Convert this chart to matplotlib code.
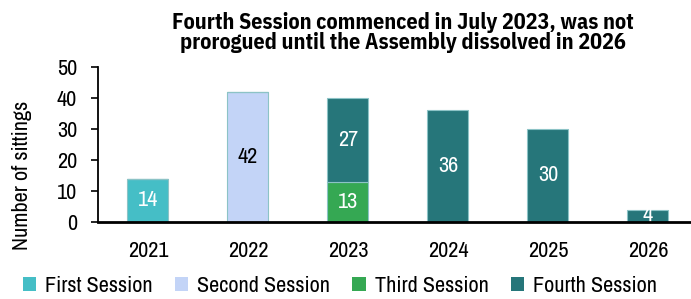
import matplotlib
matplotlib.use("Agg")
import matplotlib.pyplot as plt
import numpy as np
from matplotlib.patches import Patch

plt.rcParams['font.family'] = ['Archivo Narrow', 'Liberation Sans', 'DejaVu Sans']

years = ["2021", "2022", "2023", "2024", "2025", "2026"]
first = [14, 0, 0, 0, 0, 0]
second = [0, 42, 0, 0, 0, 0]
third = [0, 0, 13, 0, 0, 0]
fourth = [0, 0, 27, 36, 30, 4]
series_names = ["First Session", "Second Session", "Third Session", "Fourth Session"]
colors = ["#45BEC6", "#C3D4F7", "#35A853", "#26767A"]
title = "Fourth Session commenced in July 2023, was not\nprorogued until the Assembly dissolved in 2026"

FS = 16

fig = plt.figure(figsize=(6.91, 2.99), dpi=100)
ax = fig.add_axes([0.1418, 0.2575, 0.8582, 0.5185])

x = np.arange(len(years))
w = 0.41
bottom = np.zeros(len(years))
for vals, c in zip([first, second, third, fourth], colors):
    vals = np.array(vals, dtype=float)
    ax.bar(x, vals, w, bottom=bottom, color=c, edgecolor="#8CC3C6", linewidth=0.8)
    for xi, v, b in zip(x, vals, bottom):
        if v > 0:
            tc = "black" if c == "#C3D4F7" else "white"
            ax.text(xi, b + v / 2, f"{int(v)}", ha="center", va="center",
                    color=tc, fontsize=FS, zorder=1.5)
    bottom += vals

ax.set_xlim(-0.5, 5.43)
ax.set_ylim(0, 50)
ax.set_yticks([0, 10, 20, 30, 40, 50])
ax.set_xticks(x)
ax.set_xticklabels(years)
ax.tick_params(axis="x", length=0, labelsize=FS, pad=14)
ax.tick_params(axis="y", length=5, width=1.2, labelsize=FS, pad=10, direction="out")
for s in ["top", "right"]:
    ax.spines[s].set_visible(False)
ax.spines["bottom"].set_linewidth(2)
ax.spines["bottom"].set_zorder(3)
ax.spines["left"].set_linewidth(1.3)
ax.set_ylabel("Number of sittings", fontsize=FS)
ax.yaxis.set_label_coords(-0.111, 0.303)

fig.text(0.583, 0.89, title, ha="center", va="center", fontsize=15.8, fontweight="bold",
         family=["IBM Plex Sans Condensed", "DejaVu Sans"], linespacing=0.95)

handles = [Patch(facecolor=c, edgecolor="none") for c in colors]
fig.legend(handles, series_names, loc="center", bbox_to_anchor=(0.492, 0.045), ncol=4,
           frameon=False, fontsize=FS, handlelength=0.6, handleheight=0.6,
           handletextpad=0.4, columnspacing=1.0, borderpad=0, borderaxespad=0)

fig.savefig("out.png", dpi=100)
